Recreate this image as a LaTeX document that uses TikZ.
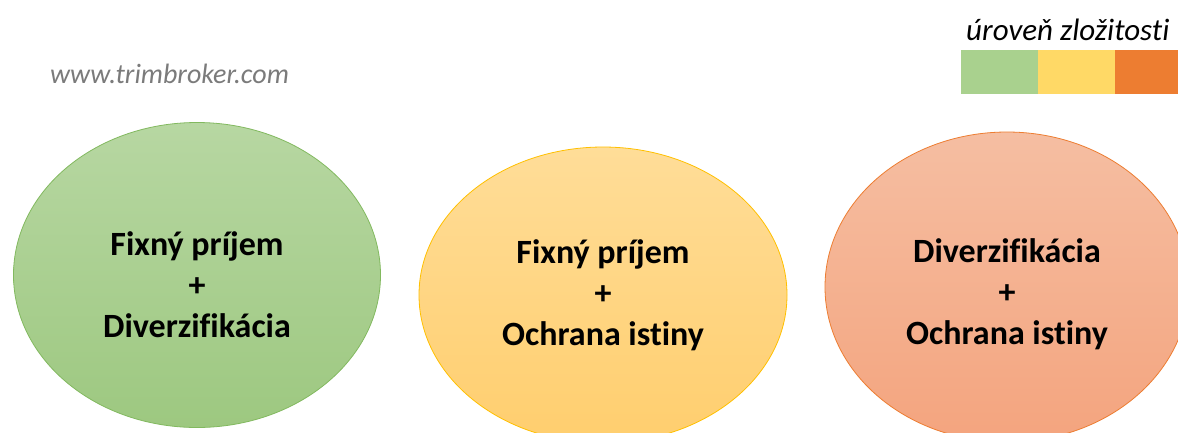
\documentclass[tikz,border=0pt]{standalone}
\usepackage{fontspec}
\setmainfont{Carlito}[Ligatures=NoCommon]
\usetikzlibrary{shapes.geometric}
\definecolor{lgreen}{HTML}{A9D18E}
\definecolor{lyellow}{HTML}{FFD966}
\definecolor{lorange}{HTML}{ED7D31}
\definecolor{urlgray}{HTML}{7B7B7B}
\tikzset{
  blob/.style={ellipse, inner sep=0pt, line width=0.8pt},
  blobtext/.style={align=center, font=\bfseries\fontsize{34}{41}\selectfont, text=black},
  legbox/.style={minimum width=76.5pt, minimum height=44pt, inner sep=0pt, anchor=north west, draw=none},
}
\begin{document}
\begin{tikzpicture}[x=1pt,y=-1pt]
\useasboundingbox (0,0) rectangle (1178,432);
\fill[white] (0,0) rectangle (1178,432);
% URL
\node[anchor=base west, font=\itshape\fontsize{28}{32}\selectfont, text=urlgray, inner sep=0pt] (url) at (50,83) {www.trimbroker.com};
% legend
\node[anchor=base west, font=\itshape\fontsize{31}{36}\selectfont, inner sep=0pt] (legtitle) at (966,40) {úroveň zložitosti};
\node[legbox, fill=lgreen] (lg) at (961,50) {};
\node[legbox, fill=lyellow] (ly) at (lg.north east) {};
\node[legbox, fill=lorange] (lo) at (ly.north east) {};
% ellipses
\node[blob, minimum width=367pt, minimum height=305pt, top color={rgb,255:red,183;green,215;blue,162}, bottom color={rgb,255:red,157;green,200;blue,128}, draw={rgb,255:red,130;green,185;blue,95}] (g) at (197,275) {};
\node[blob, minimum width=368pt, minimum height=296pt, top color={rgb,255:red,255;green,221;blue,152}, bottom color={rgb,255:red,255;green,206;blue,110}, draw={rgb,255:red,255;green,192;blue,0}] (y) at (603,295) {};
\node[blob, minimum width=364pt, minimum height=310pt, top color={rgb,255:red,245;green,190;blue,162}, bottom color={rgb,255:red,244;green,164;blue,126}, draw={rgb,255:red,237;green,125;blue,49}] (r) at (1007,287) {};
% texts
\node[blobtext] (gt) at (197,285) {Fixný príjem\\+\\Diverzifikácia};
\node[blobtext] (yt) at (603,295) {Fixný príjem\\+\\Ochrana istiny};
\node[blobtext] (rt) at (1007,294) {Diverzifikácia\\+\\Ochrana istiny};
\end{tikzpicture}
\end{document}
